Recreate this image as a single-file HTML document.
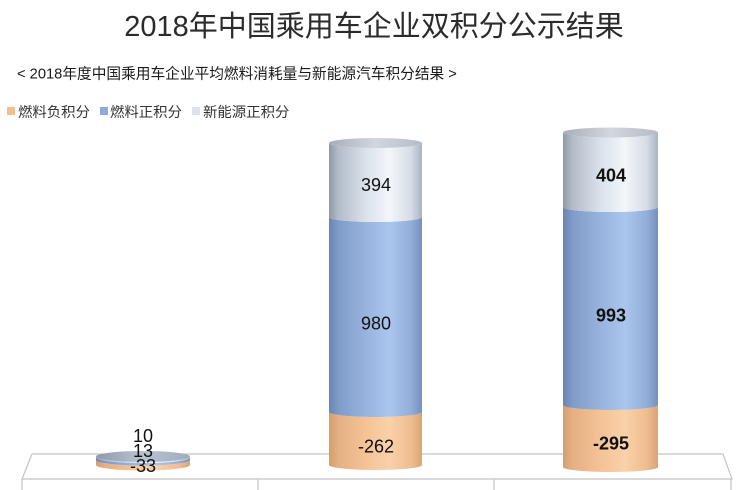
<!DOCTYPE html>
<html><head><meta charset="utf-8"><style>
html,body{margin:0;padding:0;background:#fff;}
svg{display:block;}
text{font-family:"Liberation Sans","Noto Sans CJK SC",sans-serif;}
</style></head><body>
<svg width="744" height="490" viewBox="0 0 744 490" xmlns="http://www.w3.org/2000/svg">
<defs>
<linearGradient id="gl" x1="0" x2="1" y1="0" y2="0">
<stop offset="0" stop-color="#8f99a7"/><stop offset="0.1" stop-color="#b3bcc8"/><stop offset="0.4" stop-color="#dbe2eb"/><stop offset="0.65" stop-color="#f3f6fa"/><stop offset="0.88" stop-color="#d6dde7"/><stop offset="1" stop-color="#a9b3c1"/>
</linearGradient>
<linearGradient id="gb" x1="0" x2="1" y1="0" y2="0">
<stop offset="0" stop-color="#6a84ae"/><stop offset="0.1" stop-color="#7f9bc7"/><stop offset="0.4" stop-color="#98b4de"/><stop offset="0.65" stop-color="#aac6ee"/><stop offset="0.88" stop-color="#93afd9"/><stop offset="1" stop-color="#7590bc"/>
</linearGradient>
<linearGradient id="go" x1="0" x2="1" y1="0" y2="0">
<stop offset="0" stop-color="#d29d6f"/><stop offset="0.1" stop-color="#e5b083"/><stop offset="0.4" stop-color="#f4c396"/><stop offset="0.65" stop-color="#fad1a9"/><stop offset="0.88" stop-color="#f0bd90"/><stop offset="1" stop-color="#d9a577"/>
</linearGradient>
<linearGradient id="gt" x1="0" x2="1" y1="0" y2="0">
<stop offset="0" stop-color="#a7aeb9"/><stop offset="0.5" stop-color="#d2d7de"/><stop offset="1" stop-color="#b5bcc6"/>
</linearGradient>
<linearGradient id="gt0" x1="0" x2="1" y1="0" y2="0">
<stop offset="0" stop-color="#8e9aab"/><stop offset="0.5" stop-color="#b9c3d0"/><stop offset="1" stop-color="#a0abba"/>
</linearGradient>
</defs>

<!-- Title -->
<text x="374" y="36" font-size="29" fill="#2b2b2b" text-anchor="middle">2018年中国乘用车企业双积分公示结果</text>
<text x="17" y="78.5" font-size="14.7" fill="#1a1a1a">&lt; 2018年度中国乘用车企业平均燃料消耗量与新能源汽车积分结果 &gt;</text>

<!-- Legend -->
<rect x="7" y="107" width="8" height="8" fill="#f2bf8f"/>
<text x="18" y="117" font-size="14.4" fill="#333">燃料负积分</text>
<rect x="100" y="107" width="8" height="8" fill="#8eaad6"/>
<text x="110" y="117" font-size="14.4" fill="#333">燃料正积分</text>
<rect x="192" y="107" width="8" height="8" fill="#dce3ec"/>
<text x="203" y="117" font-size="14.4" fill="#333">新能源正积分</text>

<!-- Floor -->
<polygon points="32,454 723,454 732,479 22,479" fill="#fff" stroke="#c4c4c4" stroke-width="1.2"/>
<line x1="22" y1="479" x2="22" y2="490" stroke="#c4c4c4" stroke-width="1.2"/>
<line x1="258" y1="479" x2="258" y2="490" stroke="#c4c4c4" stroke-width="1.2"/>
<line x1="494" y1="479" x2="494" y2="490" stroke="#c4c4c4" stroke-width="1.2"/>
<line x1="731" y1="479" x2="731" y2="490" stroke="#c4c4c4" stroke-width="1.2"/>

<!-- Bar 0 (disc) cx 143 rx 47 -->
<path d="M96,460 A47,5.5 0 0 0 190,460 L190,465 A47,5.5 0 0 1 96,465 Z" fill="url(#go)"/>
<path d="M96,457.5 A47,5.5 0 0 0 190,457.5 L190,460 A47,5.5 0 0 1 96,460 Z" fill="url(#gb)"/>
<path d="M96,456.5 A47,5.5 0 0 0 190,456.5 L190,457.5 A47,5.5 0 0 1 96,457.5 Z" fill="url(#gl)"/>
<ellipse cx="143" cy="456.5" rx="47" ry="5.5" fill="url(#gt0)"/>
<text x="143" y="442" font-size="18" fill="#111" text-anchor="middle">10</text>
<text x="143" y="457" font-size="18" fill="#111" text-anchor="middle">13</text>
<text x="143" y="472" font-size="18" fill="#111" text-anchor="middle">-33</text>

<!-- Bar 1 cx 375.5 rx 46.5 -->
<path d="M329,412 A46.5,5 0 0 0 422,412 L422,465 A46.5,5 0 0 1 329,465 Z" fill="url(#go)"/>
<path d="M329,217 A46.5,5 0 0 0 422,217 L422,412 A46.5,5 0 0 1 329,412 Z" fill="url(#gb)"/>
<path d="M329,143 A46.5,5 0 0 0 422,143 L422,217 A46.5,5 0 0 1 329,217 Z" fill="url(#gl)"/>
<ellipse cx="375.5" cy="143" rx="46.5" ry="5" fill="url(#gt)"/>
<text x="376" y="191" font-size="18" fill="#111" text-anchor="middle">394</text>
<text x="376" y="329.5" font-size="18" fill="#111" text-anchor="middle">980</text>
<text x="376" y="452.5" font-size="18" fill="#111" text-anchor="middle">-262</text>

<!-- Bar 2 cx 610.5 rx 47.5 -->
<path d="M563,405 A47.5,5 0 0 0 658,405 L658,467 A47.5,5 0 0 1 563,467 Z" fill="url(#go)"/>
<path d="M563,207 A47.5,5 0 0 0 658,207 L658,405 A47.5,5 0 0 1 563,405 Z" fill="url(#gb)"/>
<path d="M563,132.5 A47.5,5 0 0 0 658,132.5 L658,207 A47.5,5 0 0 1 563,207 Z" fill="url(#gl)"/>
<ellipse cx="610.5" cy="132.5" rx="47.5" ry="5" fill="url(#gt)"/>
<text x="611" y="181.5" font-size="18" font-weight="bold" fill="#111" text-anchor="middle">404</text>
<text x="611" y="321.5" font-size="18" font-weight="bold" fill="#111" text-anchor="middle">993</text>
<text x="611" y="449.5" font-size="18" font-weight="bold" fill="#111" text-anchor="middle">-295</text>
</svg>
</body></html>
